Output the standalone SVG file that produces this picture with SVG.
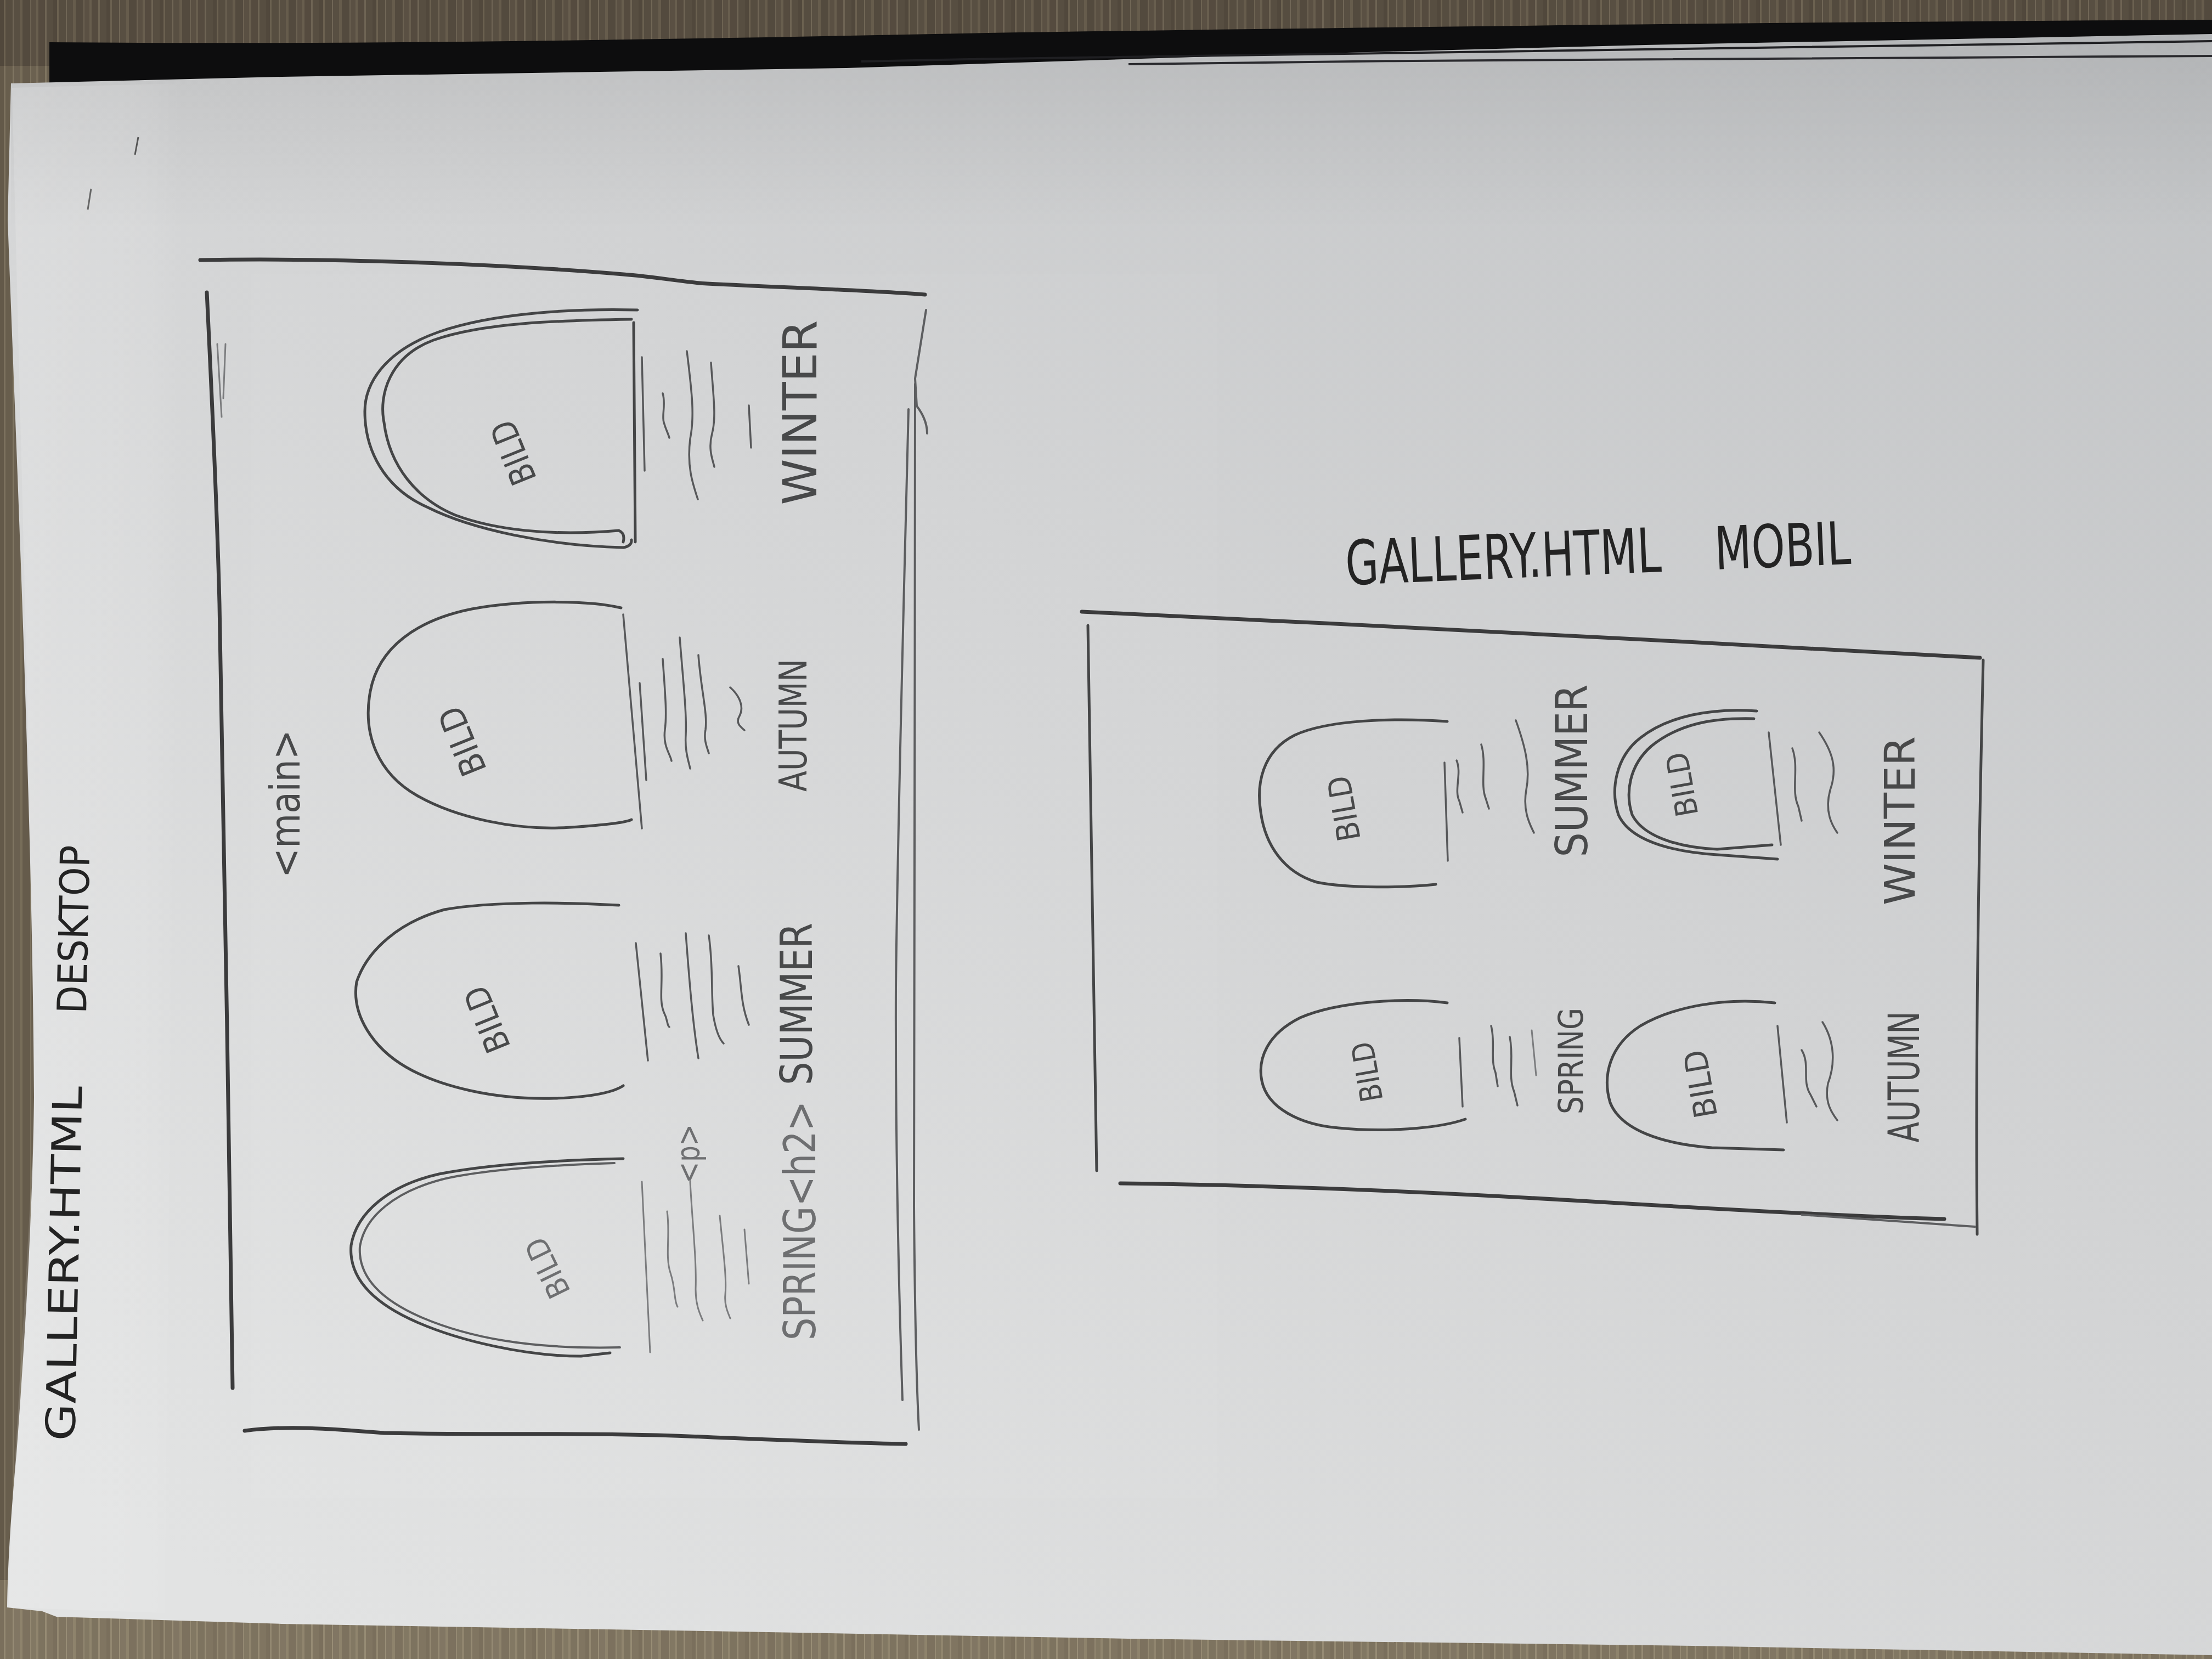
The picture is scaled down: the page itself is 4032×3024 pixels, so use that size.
<svg xmlns="http://www.w3.org/2000/svg" width="4032" height="3024" viewBox="0 0 4032 3024">
  <defs>
    <pattern id="grain" patternUnits="userSpaceOnUse" width="97" height="3024">
      <rect x="0" y="0" width="7" height="3024" fill="#4a4134"/>
      <rect x="7" y="0" width="3" height="3024" fill="#a09379"/>
      <rect x="10" y="0" width="13" height="3024" fill="#5b5142"/>
      <rect x="23" y="0" width="2" height="3024" fill="#b0a48b"/>
      <rect x="25" y="0" width="11" height="3024" fill="#62584a"/>
      <rect x="36" y="0" width="5" height="3024" fill="#8f8369"/>
      <rect x="41" y="0" width="14" height="3024" fill="#51483b"/>
      <rect x="55" y="0" width="2" height="3024" fill="#a3977e"/>
      <rect x="57" y="0" width="9" height="3024" fill="#675d4d"/>
      <rect x="66" y="0" width="4" height="3024" fill="#958970"/>
      <rect x="70" y="0" width="12" height="3024" fill="#564c3f"/>
      <rect x="82" y="0" width="3" height="3024" fill="#aa9e85"/>
      <rect x="85" y="0" width="12" height="3024" fill="#5e5445"/>
    </pattern>
    <linearGradient id="paperShade" x1="1" y1="0" x2="0.15" y2="1">
      <stop offset="0" stop-color="#c1c3c5"/>
      <stop offset="0.45" stop-color="#d2d3d4"/>
      <stop offset="1" stop-color="#e2e3e3"/>
    </linearGradient>
    <linearGradient id="topShade" x1="0" y1="0" x2="0" y2="1">
      <stop offset="0" stop-color="#000" stop-opacity="0.08"/>
      <stop offset="1" stop-color="#000" stop-opacity="0"/>
    </linearGradient>
    <linearGradient id="marginGlow" x1="0" y1="0" x2="1" y2="0">
      <stop offset="0" stop-color="#fff" stop-opacity="0.14"/>
      <stop offset="0.8" stop-color="#fff" stop-opacity="0.08"/>
      <stop offset="1" stop-color="#fff" stop-opacity="0"/>
    </linearGradient>
    <style>
      .heavy { fill: none; stroke: #3b3b3c; stroke-width: 7; stroke-linecap: round; stroke-linejoin: round; }
      .line  { fill: none; stroke: #444546; stroke-width: 5; stroke-linecap: round; stroke-linejoin: round; }
      .soft  { fill: none; stroke: #5d5e60; stroke-width: 4; stroke-linecap: round; stroke-linejoin: round; }
      .thin  { fill: none; stroke: #57585a; stroke-width: 3.5; stroke-linecap: round; stroke-linejoin: round; }
      .faint { fill: none; stroke: #7b7c7e; stroke-width: 3; stroke-linecap: round; stroke-linejoin: round; }
      .hand  { font-family: "DejaVu Sans", "Liberation Sans", sans-serif; fill: #48494a; }
      .pale  { fill: #6e6f71; }
      .ink   { font-family: "DejaVu Sans", "Liberation Sans", sans-serif; fill: #232323; }
    </style>
  </defs>

  <!-- table top (wood) behind the sheet -->
  <g id="table">
    <rect x="0" y="0" width="4032" height="3024" fill="#6d6352"/>
    <rect x="0" y="0" width="4032" height="120" fill="#544b3f"/>
    <rect x="0" y="2880" width="4032" height="144" fill="#8e836d"/>
    <rect x="0" y="0" width="4032" height="3024" fill="url(#grain)" opacity="0.3"/>
    <!-- dark shadow under the raised top edge of the sheet -->
    <path d="M90,160 L90,77 C700,82 1200,72 1800,60 C2600,48 3300,40 4032,36 L4032,80 Z" fill="#0d0d0e"/>
  </g>

  <!-- the sheet of paper -->
  <g id="paper">
    <path d="M20,152 L514,140 L1028,132 L1543,124 L2300,100 L3000,82 L4032,62 L4032,3017 L3086,3000 L2057,2987 L1286,2973 L514,2960 L103,2947 L77,2937 L13,2930 C14,2850 20,2760 30,2650 C45,2450 60,2200 62,2000 C60,1700 52,1450 44,1200 C34,900 22,620 14,400 Z" fill="url(#paperShade)"/>
    <path d="M20,152 L514,140 L1028,132 L1543,124 L2300,100 L3000,82 L4032,62 L4032,420 L20,420 Z" fill="url(#topShade)"/>
    <!-- lighter strip along the left margin -->
    <path d="M22,160 L330,152 L300,2940 L16,2930 C20,2700 60,2200 62,2000 C58,1500 40,900 22,160 Z" fill="url(#marginGlow)"/>
    <!-- lighter area round the desktop sketch -->
    <rect x="458" y="500" width="1760" height="2230" fill="#ffffff" opacity="0.04"/>
    <!-- edges of the sheets lying underneath -->
    <path d="M1570,112 C2300,96 3000,86 4032,75" fill="none" stroke="#1f1f22" stroke-width="4"/>
    <path d="M2057,117 C2700,108 3300,104 4032,102" fill="none" stroke="#2a2a2e" stroke-width="4"/>
    <!-- small nicks near the top-left margin -->
    <path d="M252,250 L246,282" fill="none" stroke="#555" stroke-width="3"/>
    <path d="M166,344 L160,382" fill="none" stroke="#666" stroke-width="3"/>
  </g>

  <!-- ===== desktop layout ===== -->
  <g id="desktop-title">
    <text class="ink" font-size="74" transform="translate(136,2627) rotate(-88.8)" textLength="647" lengthAdjust="spacingAndGlyphs">GALLERY.HTML</text>
    <text class="ink" font-size="74" transform="translate(157,1848) rotate(-88.8)" textLength="307" lengthAdjust="spacingAndGlyphs">DESKTOP</text>
  </g>

  <g id="desktop-frame">
    <path class="heavy" d="M365,474 C600,470 900,480 1136,500 C1200,505 1250,515 1289,517 C1450,525 1600,530 1686,537"/>
    <path class="heavy" d="M377,533 C385,700 395,900 400,1100 C408,1500 418,2100 424,2530"/>
    <path class="faint" d="M396,627 L404,760"/>
    <path class="faint" d="M411,627 L407,726"/>
    <path class="heavy" d="M446,2608 C520,2598 600,2604 700,2612 C900,2616 1100,2610 1300,2620 C1450,2626 1550,2630 1651,2632"/>
    <path class="soft" d="M1688,565 L1668,690 L1671,740 Q1690,765 1690,790"/>
    <path class="soft" d="M1668,700 C1668,1200 1666,1800 1666,2200 C1668,2450 1672,2550 1675,2606"/>
    <path class="soft" d="M1656,746 C1650,1000 1636,1500 1633,1800 C1632,2100 1640,2400 1645,2552"/>
    <text class="hand" font-size="74" transform="translate(546,1465) rotate(-90)" text-anchor="middle" textLength="270" lengthAdjust="spacingAndGlyphs">&lt;main&gt;</text>
  </g>

  <g id="desktop-card-winter">
    <path class="line" d="M1162,565 C1050,562 900,570 800,605 C700,640 665,700 665,750 C665,820 700,890 780,925 C860,965 1000,995 1136,998 Q1152,995 1151,984"/>
    <path class="line" d="M1151,582 C1020,584 880,588 790,620 C710,650 690,720 700,770 C710,850 760,910 830,939 C900,965 1000,978 1128,967 Q1140,972 1136,988"/>
    <path class="line" d="M1155,588 L1158,988"/>
    <path class="thin" d="M1170,651 L1175,858"/>
    <path class="thin" d="M1208,717 C1214,737 1206,757 1210,770 C1214,784 1218,790 1220,798"/>
    <path class="thin" d="M1252,640 C1262,720 1266,760 1258,800 C1252,850 1262,880 1272,910"/>
    <path class="thin" d="M1296,661 C1300,720 1306,760 1298,790 C1290,820 1300,840 1302,851"/>
    <path class="thin" d="M1365,739 L1369,816"/>
    <text class="hand" font-size="64" transform="translate(936,825) rotate(-112)" text-anchor="middle" dominant-baseline="central" textLength="120" lengthAdjust="spacingAndGlyphs">BILD</text>
    <text class="hand" font-size="86" transform="translate(1488,752) rotate(-90)" text-anchor="middle" textLength="337" lengthAdjust="spacingAndGlyphs">WINTER</text>
  </g>

  <g id="desktop-card-autumn">
    <path class="line" d="M1132,1108 C1080,1095 960,1092 860,1110 C760,1130 690,1180 675,1260 C660,1340 690,1410 760,1450 C830,1490 940,1515 1040,1508 C1100,1504 1140,1500 1151,1494"/>
    <path class="thin" d="M1136,1120 L1170,1510"/>
    <path class="thin" d="M1166,1245 L1178,1422"/>
    <path class="thin" d="M1208,1201 C1212,1260 1216,1300 1212,1330 C1208,1360 1222,1375 1224,1387"/>
    <path class="thin" d="M1239,1162 C1245,1240 1252,1300 1250,1340 C1248,1370 1256,1390 1258,1401"/>
    <path class="thin" d="M1273,1194 C1278,1260 1290,1300 1286,1330 C1282,1350 1290,1365 1292,1373"/>
    <path class="thin" d="M1331,1253 C1350,1270 1356,1290 1348,1305 C1340,1318 1350,1325 1357,1331"/>
    <text class="hand" font-size="64" transform="translate(843,1351) rotate(-112)" text-anchor="middle" dominant-baseline="central" textLength="130" lengthAdjust="spacingAndGlyphs">BILD</text>
    <text class="hand" font-size="70" transform="translate(1470,1322) rotate(-90)" text-anchor="middle" textLength="242" lengthAdjust="spacingAndGlyphs">AUTUMN</text>
  </g>

  <g id="desktop-card-summer">
    <path class="line" d="M1128,1650 C1040,1645 900,1642 810,1658 C730,1680 670,1730 650,1790 C640,1850 680,1910 740,1945 C800,1980 900,2005 1010,2002 C1080,2000 1120,1990 1136,1979"/>
    <path class="thin" d="M1159,1719 L1181,1933"/>
    <path class="thin" d="M1204,1738 C1210,1790 1200,1820 1210,1845 C1218,1860 1215,1868 1220,1872"/>
    <path class="thin" d="M1250,1701 C1256,1780 1262,1860 1273,1929"/>
    <path class="thin" d="M1292,1705 C1300,1760 1296,1800 1300,1850 C1305,1880 1312,1895 1319,1902"/>
    <path class="thin" d="M1346,1761 C1352,1800 1350,1830 1365,1868"/>
    <text class="hand" font-size="62" transform="translate(888,1858) rotate(-112)" text-anchor="middle" dominant-baseline="central" textLength="125" lengthAdjust="spacingAndGlyphs">BILD</text>
    <text class="hand" font-size="80" transform="translate(1480,1830) rotate(-90)" text-anchor="middle" textLength="296" lengthAdjust="spacingAndGlyphs">SUMMER</text>
  </g>

  <g id="desktop-card-spring">
    <path class="line" d="M1136,2112 C1050,2114 900,2120 800,2140 C710,2160 650,2210 640,2270 C635,2330 680,2375 760,2410 C840,2445 960,2472 1059,2472 L1112,2466"/>
    <path class="soft" d="M1120,2120 C1000,2124 880,2132 805,2150 C722,2172 665,2216 656,2272 C652,2330 700,2372 770,2402 C850,2436 960,2460 1130,2456"/>
    <path class="faint" d="M1170,2154 L1185,2465"/>
    <path class="faint" d="M1216,2208 C1222,2250 1212,2290 1222,2320 C1232,2350 1228,2370 1235,2382"/>
    <path class="faint" d="M1258,2154 C1262,2230 1270,2300 1268,2350 C1268,2380 1276,2395 1281,2407"/>
    <path class="faint" d="M1312,2216 C1318,2280 1325,2330 1322,2360 C1320,2380 1328,2395 1331,2403"/>
    <path class="faint" d="M1357,2241 L1365,2340"/>
    <text class="hand pale" font-size="56" transform="translate(998,2311) rotate(-116)" text-anchor="middle" dominant-baseline="central" textLength="115" lengthAdjust="spacingAndGlyphs">BILD</text>
    <text class="hand pale" font-size="58" transform="translate(1275,2103) rotate(-90)" text-anchor="middle" textLength="108" lengthAdjust="spacingAndGlyphs">&lt;p&gt;</text>
    <text class="hand pale" font-size="80" transform="translate(1486,2225) rotate(-90)" text-anchor="middle" textLength="436" lengthAdjust="spacingAndGlyphs">SPRING&lt;h2&gt;</text>
  </g>

  <!-- ===== mobile layout ===== -->
  <g id="mobile-title">
    <text class="ink" font-size="112" transform="translate(2454,1066) rotate(-2.4)" textLength="576" lengthAdjust="spacingAndGlyphs">GALLERY.HTML</text>
    <text class="ink" font-size="108" transform="translate(3127,1038) rotate(-2.4)" textLength="248" lengthAdjust="spacingAndGlyphs">MOBIL</text>
  </g>

  <g id="mobile-frame">
    <path class="heavy" d="M1972,1115 C2300,1130 2700,1150 3000,1166 C3300,1182 3500,1195 3609,1199"/>
    <path class="line" d="M1983,1140 C1988,1500 1994,1800 1999,2134"/>
    <path class="line" d="M3615,1203 C3608,1500 3600,1900 3604,2250"/>
    <path class="heavy" d="M2042,2157 C2300,2160 2600,2172 2900,2190 C3200,2208 3400,2218 3544,2222"/>
    <path class="soft" d="M3284,2214 C3400,2222 3500,2230 3600,2236"/>
  </g>

  <g id="mobile-card-summer">
    <path class="line" d="M2638,1315 C2540,1308 2420,1312 2360,1340 C2300,1370 2290,1430 2298,1480 C2306,1540 2340,1590 2400,1608 C2460,1620 2560,1618 2617,1612"/>
    <path class="thin" d="M2633,1390 L2639,1569"/>
    <path class="thin" d="M2655,1386 C2665,1410 2650,1440 2660,1460 L2666,1481"/>
    <path class="thin" d="M2700,1357 C2710,1390 2698,1430 2708,1455 L2714,1474"/>
    <path class="thin" d="M2763,1313 C2780,1360 2790,1400 2782,1440 C2775,1480 2790,1505 2796,1518"/>
    <text class="hand" font-size="58" transform="translate(2450,1474) rotate(-100)" text-anchor="middle" dominant-baseline="central" textLength="120" lengthAdjust="spacingAndGlyphs">BILD</text>
    <text class="hand" font-size="80" transform="translate(2893,1405) rotate(-90)" text-anchor="middle" textLength="315" lengthAdjust="spacingAndGlyphs">SUMMER</text>
  </g>

  <g id="mobile-card-spring">
    <path class="line" d="M2638,1828 C2560,1818 2440,1825 2370,1855 C2310,1885 2292,1930 2300,1970 C2310,2020 2370,2050 2440,2056 C2520,2064 2620,2058 2671,2040"/>
    <path class="thin" d="M2660,1892 L2666,2017"/>
    <path class="thin" d="M2718,1870 C2726,1900 2716,1930 2726,1955 L2730,1980"/>
    <path class="thin" d="M2752,1890 C2760,1930 2748,1960 2760,1990 L2766,2015"/>
    <path class="faint" d="M2792,1878 L2800,1960"/>
    <text class="hand" font-size="56" transform="translate(2492,1954) rotate(-100)" text-anchor="middle" dominant-baseline="central" textLength="110" lengthAdjust="spacingAndGlyphs">BILD</text>
    <text class="hand" font-size="62" transform="translate(2885,1934) rotate(-90)" text-anchor="middle" textLength="194" lengthAdjust="spacingAndGlyphs">SPRING</text>
  </g>

  <g id="mobile-card-winter">
    <path class="line" d="M3202,1296 C3120,1290 3040,1305 2990,1345 C2945,1380 2935,1440 2950,1485 C2970,1530 3040,1552 3130,1558 L3240,1566"/>
    <path class="line" d="M3197,1310 C3120,1308 3060,1320 3010,1360 C2970,1395 2962,1445 2975,1485 C2995,1525 3060,1545 3130,1548 L3230,1540"/>
    <path class="thin" d="M3224,1335 L3246,1540"/>
    <path class="thin" d="M3267,1364 C3280,1400 3264,1440 3278,1470 L3284,1496"/>
    <path class="thin" d="M3316,1335 C3340,1370 3350,1400 3336,1440 C3325,1480 3340,1505 3349,1518"/>
    <text class="hand" font-size="56" transform="translate(3066,1430) rotate(-100)" text-anchor="middle" dominant-baseline="central" textLength="118" lengthAdjust="spacingAndGlyphs">BILD</text>
    <text class="hand" font-size="76" transform="translate(3490,1496) rotate(-90)" text-anchor="middle" textLength="308" lengthAdjust="spacingAndGlyphs">WINTER</text>
  </g>

  <g id="mobile-card-autumn">
    <path class="line" d="M3235,1828 C3140,1818 3050,1835 2990,1870 C2935,1905 2920,1960 2935,2010 C2955,2060 3030,2085 3120,2092 L3251,2096"/>
    <path class="thin" d="M3240,1870 L3257,2046"/>
    <path class="thin" d="M3284,1914 C3300,1940 3284,1970 3300,1995 L3311,2017"/>
    <path class="thin" d="M3322,1863 C3345,1900 3345,1940 3332,1975 C3325,2010 3340,2030 3349,2042"/>
    <text class="hand" font-size="58" transform="translate(3100,1976) rotate(-100)" text-anchor="middle" dominant-baseline="central" textLength="125" lengthAdjust="spacingAndGlyphs">BILD</text>
    <text class="hand" font-size="78" transform="translate(3498,1963) rotate(-90)" text-anchor="middle" textLength="239" lengthAdjust="spacingAndGlyphs">AUTUMN</text>
  </g>
</svg>
